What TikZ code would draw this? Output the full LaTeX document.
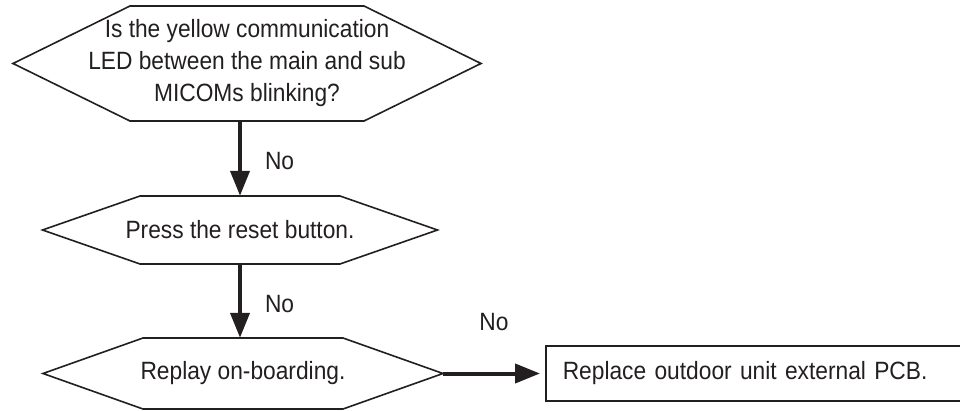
\documentclass[tikz,border=0pt]{standalone}
\usepackage{fontspec}
\setmainfont[FakeStretch=0.91]{Liberation Sans}
\usetikzlibrary{arrows.meta,positioning}
\definecolor{flowline}{RGB}{35,31,32}
\tikzset{
  hexline/.style={draw=flowline, line width=1.6pt, line join=miter},
  hextext/.style={font=\fontsize{25}{32}\selectfont, align=center, inner sep=0pt, text=flowline},
  flowarrow/.style={draw=flowline, line width=4pt, -{Triangle[width=19pt,length=25pt]}},
  nolabel/.style={font=\fontsize{25}{28}\selectfont, inner sep=0pt, text=flowline},
  procbox/.style={draw=flowline, line width=1.6pt, font=\fontsize{25}{28}\selectfont,
    text=flowline, text width=383pt, align=left, inner xsep=17pt, minimum height=55pt}
}
\newcommand{\DecisionHex}[7]{%
  % #1 name, #2 x, #3 y, #4 half flat, #5 half width, #6 half height, #7 text
  \node[hextext, minimum height=2*#6] (#1) at (#2,#3) {#7};
  \coordinate (#1-e) at ({#2+#5},#3);
  \draw[hexline] ({#2-#5},#3) -- ({#2-#4},{#3-#6}) -- ({#2+#4},{#3-#6})
    -- (#1-e) -- ({#2+#4},{#3+#6}) -- ({#2-#4},{#3+#6}) -- cycle;
}

\begin{document}
\begin{tikzpicture}[x=1pt, y=-1pt]
  \useasboundingbox (0,0) rectangle (960,411);

  % decisions
  \DecisionHex{ledcheck}{247}{63.5}{117}{234}{57.5}{Is the yellow communication\\LED between the main and sub\\MICOMs blinking?}
  \DecisionHex{resetbtn}{240}{230}{100}{197.5}{34}{Press the reset button.}
  \DecisionHex{onboard}{243}{373.5}{100}{200}{35.5}{Replay on-boarding.}

  % last step
  \node[procbox, anchor=west] (pcb) at (545,373.5) {Replace outdoor unit external PCB.};

  % arrows
  \draw[flowarrow] (resetbtn.north |- ledcheck.south) -- node[nolabel, right=23pt, yshift=-3pt] {No} (resetbtn.north);
  \draw[flowarrow] (resetbtn.south) -- node[nolabel, right=23pt, yshift=-3pt] {No} (resetbtn.south |- onboard.north);
  \draw[flowarrow, shorten >=5pt] (onboard-e) -- node[nolabel, above=41pt] {No} (pcb.west);
\end{tikzpicture}
\end{document}
